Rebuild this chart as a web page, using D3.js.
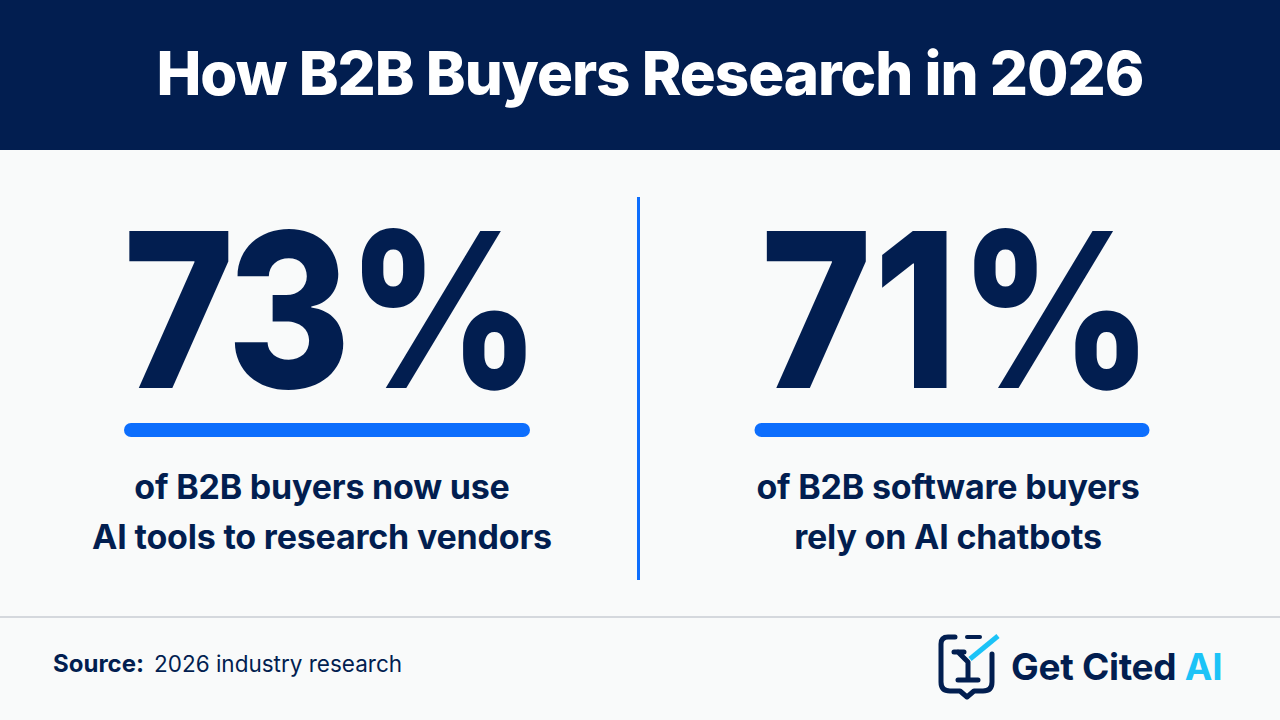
<!DOCTYPE html>
<html>
<head>
<meta charset="utf-8">
<script src="https://cdn.jsdelivr.net/npm/d3@7"></script>
<style>
html, body { margin: 0; padding: 0; background: #f9fafa; }
svg { display: block; }
text { font-family: Inter, Roboto, sans-serif; }
</style>
</head>
<body>
<svg id="chart" width="1280" height="720"></svg>
<script>
const title = "How B2B Buyers Research in 2026";
const stats = [73, 71];
const captions = [
    ["of B2B buyers now use", "AI tools to research vendors"],
    ["of B2B software buyers", "rely on AI chatbots"],
];
const navy = "#021e50";
const blue = "#0d6efd";
const cyan = "#1cc3f7";

const svg = d3.select("#chart");

svg.append("rect").attr("width", 1280).attr("height", 150).attr("fill", navy);
svg.append("text")
    .attr("x", 650).attr("y", 95)
    .attr("text-anchor", "middle")
    .attr("font-size", 60).attr("font-weight", 800)
    .attr("letter-spacing", -1)
    .attr("fill", "#fff")
    .text(title);

// panels
const statCenters = [330, 958];
const statSpacing = [-5, 2];
const ruleCenters = [327, 952];
const captionCenters = [322, 948];
const ruleWidths = [406, 395];
stats.forEach((v, i) => {
    // the digits in the reference are narrower than Inter, so squeeze them
    svg.append("text")
        .attr("transform", `translate(${statCenters[i]},388) scale(0.875,1)`)
        .attr("text-anchor", "middle")
        .attr("font-size", 216).attr("font-weight", 800)
        .attr("letter-spacing", statSpacing[i])
        .attr("fill", navy)
        .text(`${v}%`);
    svg.append("rect")
        .attr("x", ruleCenters[i] - ruleWidths[i] / 2).attr("y", 423)
        .attr("width", ruleWidths[i]).attr("height", 14).attr("rx", 7)
        .attr("fill", blue);
    captions[i].forEach((line, j) => {
        svg.append("text")
            .attr("x", captionCenters[i]).attr("y", 499 + j * 50)
            .attr("text-anchor", "middle")
            .attr("font-size", 34).attr("font-weight", 700)
            .attr("letter-spacing", -0.2)
            .attr("fill", navy)
            .text(line);
    });
});

svg.append("rect").attr("x", 637).attr("y", 197).attr("width", 3).attr("height", 383).attr("fill", blue);
svg.append("rect").attr("x", 0).attr("y", 616).attr("width", 1280).attr("height", 2).attr("fill", "#d5d8dd");

// footer
const src = svg.append("text").attr("x", 53).attr("y", 672).attr("fill", navy);
src.append("tspan").attr("font-size", 24).attr("font-weight", 700).text("Source:");
src.append("tspan").attr("dx", 10).attr("font-size", 22.5).text("2026 industry research");

// logo
const logo = svg.append("g").attr("fill", "none").attr("stroke", navy).attr("stroke-linecap", "round").attr("stroke-linejoin", "round");
logo.append("path").attr("stroke-width", 5)
    .attr("d", "M955 637 H948 Q941 637 941 644 V682 Q941 691 950 691 H960 L967 697 L974 691 H983 Q992 691 992 682 V654");
logo.append("path").attr("stroke-width", 4).attr("d", "M967 637 H980");
logo.append("path").attr("stroke-width", 5).attr("d", "M954 652 H964 M958 652 L968 662 V680 M958 680 H978");
logo.append("path").attr("stroke-width", 5).attr("stroke", cyan).attr("stroke-linecap", "butt").attr("d", "M970 659 L998 636");

const brand = svg.append("text").attr("x", 1011).attr("y", 680).attr("font-size", 37).attr("font-weight", 700).attr("letter-spacing", -0.3).attr("fill", navy);
brand.append("tspan").text("Get Cited ");
brand.append("tspan").attr("fill", cyan).text("AI");
</script>
</body>
</html>
